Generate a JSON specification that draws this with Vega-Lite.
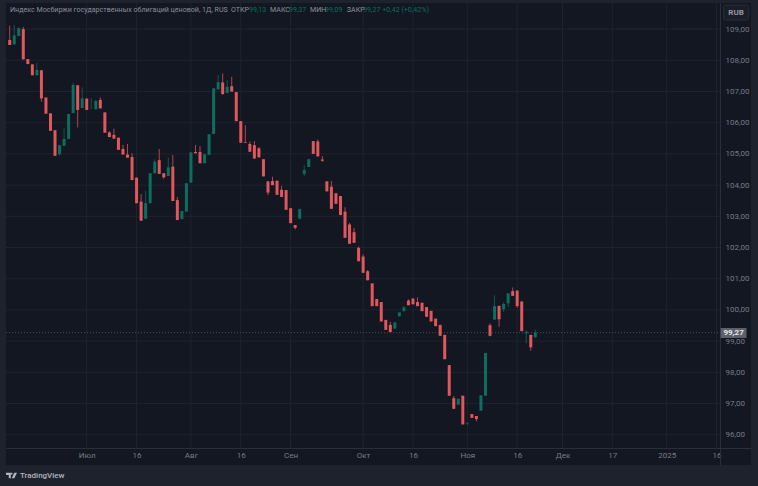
{
  "$schema": "https://vega.github.io/schema/vega-lite/v6.json",
  "width": 745,
  "height": 462,
  "autosize": "none",
  "padding": {"left": 6, "top": 3, "right": 7, "bottom": 21},
  "background": "#1e222d",
  "view": {"fill": "#131722", "stroke": null},
  "config": {"font": "Roboto"},
  "datasets": {
    "levels": [{"price": 96},{"price": 97},{"price": 98},{"price": 99},{"price": 100},{"price": 101},{"price": 102},{"price": 103},{"price": 104},{"price": 105},{"price": 106},{"price": 107},{"price": 108},{"price": 109}],
    "dates": [{"bar": 17},{"bar": 28},{"bar": 40},{"bar": 51},{"bar": 62},{"bar": 78},{"bar": 89},{"bar": 101},{"bar": 112},{"bar": 122},{"bar": 133},{"bar": 145},{"bar": 156}],
    "candles": [
      {"bar":0,"open":108.65,"high":109.11,"low":108.49,"close":108.49},
      {"bar":1,"open":108.51,"high":109.13,"low":108.51,"close":108.80},
      {"bar":2,"open":108.78,"high":109.06,"low":108.78,"close":109.03},
      {"bar":3,"open":109.00,"high":109.07,"low":108.03,"close":108.03},
      {"bar":4,"open":108.04,"high":108.04,"low":107.88,"close":107.88},
      {"bar":5,"open":107.87,"high":107.87,"low":107.52,"close":107.52},
      {"bar":6,"open":107.52,"high":107.92,"low":107.52,"close":107.69},
      {"bar":7,"open":107.68,"high":107.68,"low":106.67,"close":106.78},
      {"bar":8,"open":106.81,"high":106.81,"low":106.29,"close":106.29},
      {"bar":9,"open":106.30,"high":106.30,"low":105.74,"close":105.74},
      {"bar":10,"open":105.76,"high":105.76,"low":104.94,"close":104.94},
      {"bar":11,"open":104.99,"high":105.28,"low":104.94,"close":105.28},
      {"bar":12,"open":105.26,"high":105.82,"low":105.26,"close":105.48},
      {"bar":13,"open":105.48,"high":106.28,"low":105.48,"close":106.28},
      {"bar":14,"open":106.31,"high":107.28,"low":106.31,"close":107.21},
      {"bar":15,"open":107.20,"high":107.20,"low":105.85,"close":106.41},
      {"bar":16,"open":106.47,"high":107.13,"low":106.47,"close":106.78},
      {"bar":17,"open":106.77,"high":106.79,"low":106.41,"close":106.41},
      {"bar":18,"open":106.46,"high":106.79,"low":106.46,"close":106.47},
      {"bar":19,"open":106.43,"high":106.73,"low":106.43,"close":106.70},
      {"bar":20,"open":106.73,"high":106.81,"low":106.46,"close":106.46},
      {"bar":21,"open":106.33,"high":106.33,"low":105.68,"close":105.68},
      {"bar":22,"open":105.69,"high":105.73,"low":105.54,"close":105.54},
      {"bar":23,"open":105.61,"high":105.81,"low":105.49,"close":105.49},
      {"bar":24,"open":105.52,"high":105.52,"low":105.13,"close":105.13},
      {"bar":25,"open":105.16,"high":105.29,"low":104.98,"close":104.98},
      {"bar":26,"open":104.98,"high":105.32,"low":104.88,"close":104.88},
      {"bar":27,"open":104.90,"high":105.02,"low":104.16,"close":104.16},
      {"bar":28,"open":104.24,"high":104.24,"low":103.42,"close":103.42},
      {"bar":29,"open":103.47,"high":103.71,"low":102.86,"close":102.86},
      {"bar":30,"open":102.92,"high":103.81,"low":102.92,"close":103.42},
      {"bar":31,"open":103.42,"high":104.38,"low":103.42,"close":104.38},
      {"bar":32,"open":104.38,"high":104.83,"low":104.38,"close":104.75},
      {"bar":33,"open":104.80,"high":105.16,"low":104.36,"close":104.36},
      {"bar":34,"open":104.38,"high":104.38,"low":104.20,"close":104.25},
      {"bar":35,"open":104.29,"high":104.88,"low":104.29,"close":104.57},
      {"bar":36,"open":104.59,"high":104.96,"low":103.49,"close":103.49},
      {"bar":37,"open":103.52,"high":103.62,"low":102.88,"close":102.88},
      {"bar":38,"open":102.91,"high":103.17,"low":102.91,"close":103.17},
      {"bar":39,"open":103.15,"high":104.06,"low":103.15,"close":104.06},
      {"bar":40,"open":104.08,"high":105.05,"low":104.08,"close":105.05},
      {"bar":41,"open":105.06,"high":105.29,"low":105.02,"close":105.02},
      {"bar":42,"open":105.06,"high":105.25,"low":104.70,"close":104.70},
      {"bar":43,"open":104.70,"high":104.99,"low":104.70,"close":104.99},
      {"bar":44,"open":104.97,"high":105.63,"low":104.97,"close":105.63},
      {"bar":45,"open":105.64,"high":107.10,"low":105.64,"close":107.10},
      {"bar":46,"open":107.07,"high":107.53,"low":107.07,"close":107.30},
      {"bar":47,"open":107.29,"high":107.58,"low":106.89,"close":106.92},
      {"bar":48,"open":106.95,"high":107.37,"low":106.95,"close":107.15},
      {"bar":49,"open":107.17,"high":107.47,"low":107.00,"close":107.00},
      {"bar":50,"open":106.98,"high":106.98,"low":106.05,"close":106.05},
      {"bar":51,"open":106.05,"high":106.05,"low":105.36,"close":105.36},
      {"bar":52,"open":105.37,"high":105.92,"low":105.35,"close":105.35},
      {"bar":53,"open":105.32,"high":105.40,"low":105.07,"close":105.07},
      {"bar":54,"open":105.28,"high":105.41,"low":104.85,"close":104.85},
      {"bar":55,"open":105.18,"high":105.22,"low":104.89,"close":104.89},
      {"bar":56,"open":104.83,"high":104.83,"low":104.28,"close":104.28},
      {"bar":57,"open":104.12,"high":104.12,"low":103.68,"close":103.76},
      {"bar":58,"open":104.13,"high":104.27,"low":104.00,"close":104.00},
      {"bar":59,"open":104.14,"high":104.14,"low":103.69,"close":103.69},
      {"bar":60,"open":103.85,"high":103.98,"low":103.62,"close":103.62},
      {"bar":61,"open":103.84,"high":103.84,"low":103.21,"close":103.21},
      {"bar":62,"open":103.26,"high":103.26,"low":102.78,"close":102.78},
      {"bar":63,"open":102.72,"high":102.72,"low":102.58,"close":102.63},
      {"bar":64,"open":102.92,"high":103.23,"low":102.92,"close":103.23},
      {"bar":65,"open":104.36,"high":104.63,"low":104.29,"close":104.48},
      {"bar":66,"open":104.58,"high":104.83,"low":104.58,"close":104.83},
      {"bar":67,"open":105.41,"high":105.41,"low":105.00,"close":105.00},
      {"bar":68,"open":105.40,"high":105.46,"low":104.92,"close":104.92},
      {"bar":69,"open":104.82,"high":104.93,"low":104.75,"close":104.78},
      {"bar":70,"open":104.12,"high":104.12,"low":103.80,"close":103.80},
      {"bar":71,"open":103.95,"high":104.13,"low":103.24,"close":103.24},
      {"bar":72,"open":103.74,"high":103.74,"low":103.40,"close":103.40},
      {"bar":73,"open":103.65,"high":103.65,"low":103.04,"close":103.04},
      {"bar":74,"open":103.15,"high":103.29,"low":102.31,"close":102.31},
      {"bar":75,"open":102.74,"high":102.79,"low":102.12,"close":102.12},
      {"bar":76,"open":102.49,"high":102.63,"low":102.15,"close":102.15},
      {"bar":77,"open":101.99,"high":102.03,"low":101.56,"close":101.56},
      {"bar":78,"open":101.71,"high":101.78,"low":101.19,"close":101.19},
      {"bar":79,"open":101.24,"high":101.28,"low":100.95,"close":100.95},
      {"bar":80,"open":100.85,"high":100.85,"low":100.12,"close":100.12},
      {"bar":81,"open":100.35,"high":100.35,"low":100.12,"close":100.12},
      {"bar":82,"open":100.25,"high":100.25,"low":99.63,"close":99.63},
      {"bar":83,"open":99.68,"high":99.68,"low":99.36,"close":99.36},
      {"bar":84,"open":99.52,"high":99.62,"low":99.29,"close":99.29},
      {"bar":85,"open":99.40,"high":99.60,"low":99.40,"close":99.60},
      {"bar":86,"open":99.80,"high":99.92,"low":99.78,"close":99.92},
      {"bar":87,"open":99.97,"high":100.12,"low":99.93,"close":100.08},
      {"bar":88,"open":100.30,"high":100.34,"low":100.15,"close":100.15},
      {"bar":89,"open":100.36,"high":100.38,"low":100.18,"close":100.18},
      {"bar":90,"open":100.25,"high":100.40,"low":100.12,"close":100.12},
      {"bar":91,"open":100.23,"high":100.23,"low":99.96,"close":99.96},
      {"bar":92,"open":100.09,"high":100.09,"low":99.78,"close":99.78},
      {"bar":93,"open":99.97,"high":99.97,"low":99.63,"close":99.63},
      {"bar":94,"open":99.72,"high":99.72,"low":99.48,"close":99.48},
      {"bar":95,"open":99.52,"high":99.52,"low":99.17,"close":99.17},
      {"bar":96,"open":99.20,"high":99.20,"low":98.42,"close":98.42},
      {"bar":97,"open":98.23,"high":98.23,"low":97.25,"close":97.25},
      {"bar":98,"open":97.17,"high":97.24,"low":96.83,"close":96.83},
      {"bar":99,"open":96.96,"high":97.15,"low":96.96,"close":97.15},
      {"bar":100,"open":97.25,"high":97.25,"low":96.33,"close":96.33},
      {"bar":101,"open":96.36,"high":96.39,"low":96.31,"close":96.38},
      {"bar":102,"open":96.66,"high":96.66,"low":96.54,"close":96.54},
      {"bar":103,"open":96.60,"high":96.60,"low":96.43,"close":96.50},
      {"bar":104,"open":96.77,"high":97.26,"low":96.77,"close":97.26},
      {"bar":105,"open":97.25,"high":98.62,"low":97.25,"close":98.62},
      {"bar":106,"open":99.51,"high":99.57,"low":99.15,"close":99.17},
      {"bar":107,"open":99.69,"high":100.47,"low":99.69,"close":100.12},
      {"bar":108,"open":100.13,"high":100.13,"low":99.46,"close":99.70},
      {"bar":109,"open":100.02,"high":100.25,"low":99.94,"close":100.19},
      {"bar":110,"open":100.21,"high":100.53,"low":100.10,"close":100.53},
      {"bar":111,"open":100.60,"high":100.72,"low":100.45,"close":100.45},
      {"bar":112,"open":100.62,"high":100.62,"low":100.07,"close":100.12},
      {"bar":113,"open":100.27,"high":100.27,"low":99.32,"close":99.32},
      {"bar":114,"open":99.25,"high":99.34,"low":98.93,"close":99.30},
      {"bar":115,"open":99.20,"high":99.20,"low":98.69,"close":98.80},
      {"bar":116,"open":99.13,"high":99.37,"low":99.09,"close":99.27}
    ]
  },
  "data": {"values": [{}]},
  "encoding": {
    "x": {
      "type": "quantitative",
      "scale": {"domain": [-0.817, 163.6], "nice": false, "zero": false},
      "axis": {
        "orient": "bottom",
        "offset": -17,
        "title": null,
        "grid": false,
        "ticks": false,
        "values": [17,28,40,51,62,78,89,101,112,122,133,145,156],
        "labelExpr": "{'17':'Июл','28':'16','40':'Авг','51':'16','62':'Сен','78':'Окт','89':'16','101':'Ноя','112':'16','122':'Дек','133':'17','145':'2025','156':'16'}[datum.value]",
        "labelColor": "#787b86",
        "labelFontSize": 8,
        "labelPadding": 3,
        "labelFlush": false,
        "labelOverlap": false,
        "domainColor": "#2a2e39"
      }
    },
    "y": {
      "type": "quantitative",
      "scale": {"domain": [95.029, 109.837], "nice": false, "zero": false},
      "axis": {
        "orient": "right",
        "offset": -31,
        "title": null,
        "grid": false,
        "ticks": false,
        "values": [96,97,98,99,100,101,102,103,104,105,106,107,108,109],
        "labelExpr": "replace(format(datum.value, '.2f'), '.', ',')",
        "labelColor": "#787b86",
        "labelFontSize": 8,
        "labelPadding": 5,
        "labelOverlap": false,
        "domainColor": "#2a2e39"
      }
    }
  },
  "layer": [
    {
      "data": {"name": "levels"},
      "mark": {"type": "rule", "color": "#1f2330", "strokeWidth": 1},
      "encoding": {"y": {"field": "price"}, "x": {"datum": -0.817}, "x2": {"datum": 156.76}}
    },
    {
      "data": {"name": "dates"},
      "mark": {"type": "rule", "color": "#1f2330", "strokeWidth": 1},
      "encoding": {"x": {"field": "bar"}, "y": {"datum": 95.574}, "y2": {"datum": 109.837}}
    },
    {
      "mark": {"type": "rule", "color": "#4a4e59", "strokeWidth": 1, "strokeDash": [1, 2]},
      "encoding": {"y": {"datum": 99.27}, "x": {"datum": -0.817}, "x2": {"datum": 156.76}}
    },
    {
      "data": {"name": "candles"},
      "mark": {"type": "rule", "strokeWidth": 1, "opacity": 0.75},
      "encoding": {
        "x": {"field": "bar"},
        "y": {"field": "low"},
        "y2": {"field": "high"},
        "color": {"condition": {"test": "datum.close >= datum.open", "value": "#0c6e5e"}, "value": "#e0585c"}
      }
    },
    {
      "data": {"name": "candles"},
      "mark": {"type": "rule", "strokeWidth": 3},
      "encoding": {
        "x": {"field": "bar"},
        "y": {"field": "open"},
        "y2": {"field": "close"},
        "color": {"condition": {"test": "datum.close >= datum.open", "value": "#0c6e5e"}, "value": "#e0585c"}
      }
    },
    {
      "mark": {"type": "text", "text": "Индекс Мосбиржи государственных облигаций ценовой, 1Д, RUS", "align": "left", "baseline": "middle", "fontSize": 7.1, "color": "#8b8e98"},
      "encoding": {"x": {"datum": 0.07}, "y": {"datum": 109.6}}
    },
    {
      "mark": {"type": "text", "text": "ОТКР", "align": "left", "baseline": "middle", "fontSize": 7.1, "color": "#8b8e98"},
      "encoding": {"x": {"datum": 48.84}, "y": {"datum": 109.6}}
    },
    {
      "mark": {"type": "text", "text": "99,13", "align": "left", "baseline": "middle", "fontSize": 7.1, "color": "#0c6e5e"},
      "encoding": {"x": {"datum": 52.8}, "y": {"datum": 109.6}}
    },
    {
      "mark": {"type": "text", "text": "МАКС", "align": "left", "baseline": "middle", "fontSize": 7.1, "color": "#8b8e98"},
      "encoding": {"x": {"datum": 57.45}, "y": {"datum": 109.6}}
    },
    {
      "mark": {"type": "text", "text": "99,37", "align": "left", "baseline": "middle", "fontSize": 7.1, "color": "#0c6e5e"},
      "encoding": {"x": {"datum": 61.64}, "y": {"datum": 109.6}}
    },
    {
      "mark": {"type": "text", "text": "МИН", "align": "left", "baseline": "middle", "fontSize": 7.1, "color": "#8b8e98"},
      "encoding": {"x": {"datum": 66.28}, "y": {"datum": 109.6}}
    },
    {
      "mark": {"type": "text", "text": "99,09", "align": "left", "baseline": "middle", "fontSize": 7.1, "color": "#0c6e5e"},
      "encoding": {"x": {"datum": 69.6}, "y": {"datum": 109.6}}
    },
    {
      "mark": {"type": "text", "text": "ЗАКР", "align": "left", "baseline": "middle", "fontSize": 7.1, "color": "#8b8e98"},
      "encoding": {"x": {"datum": 74.4}, "y": {"datum": 109.6}}
    },
    {
      "mark": {"type": "text", "text": "99,27  +0,42 (+0,42%)", "align": "left", "baseline": "middle", "fontSize": 7.1, "color": "#0c6e5e"},
      "encoding": {"x": {"datum": 78}, "y": {"datum": 109.6}}
    },
    {
      "mark": {"type": "rect", "fill": "#5d606b"},
      "encoding": {"x": {"datum": 156.9}, "x2": {"datum": 162.6}, "y": {"datum": 99.42}, "y2": {"datum": 99.1}}
    },
    {
      "mark": {"type": "text", "text": "99,27", "align": "center", "baseline": "middle", "fontSize": 8, "fontWeight": "bold", "color": "#e6e7ea"},
      "encoding": {"x": {"datum": 159.75}, "y": {"datum": 99.26}}
    },
    {
      "mark": {"type": "rect", "fill": "#1a1e29", "stroke": "#2a2e39", "cornerRadius": 2},
      "encoding": {"x": {"datum": 157.5}, "x2": {"datum": 163.1}, "y": {"datum": 109.77}, "y2": {"datum": 109.29}}
    },
    {
      "mark": {"type": "text", "text": "RUB", "align": "center", "baseline": "middle", "fontSize": 8, "fontWeight": "bold", "color": "#9598a1"},
      "encoding": {"x": {"datum": 160.3}, "y": {"datum": 109.53}}
    },
    {
      "mark": {"type": "point", "filled": true, "opacity": 1, "size": 121, "color": "#b2b5be", "shape": "M-1,-0.5 H-0.12 V0.5 H-0.5 V-0.1 H-1 Z M1,-0.5 L0.5,0.5 H0.05 L0.5,-0.5 Z M0.02,-0.5 a0.17,0.17 0 1,0 0.001,0 Z", "clip": false},
      "encoding": {"x": {"datum": 0.4}, "y": {"datum": 94.69}}
    },
    {
      "mark": {"type": "text", "text": "TradingView", "align": "left", "baseline": "middle", "fontSize": 8, "fontWeight": 500, "color": "#b2b5be"},
      "encoding": {"x": {"datum": 2.27}, "y": {"datum": 94.69}}
    }
  ]
}
